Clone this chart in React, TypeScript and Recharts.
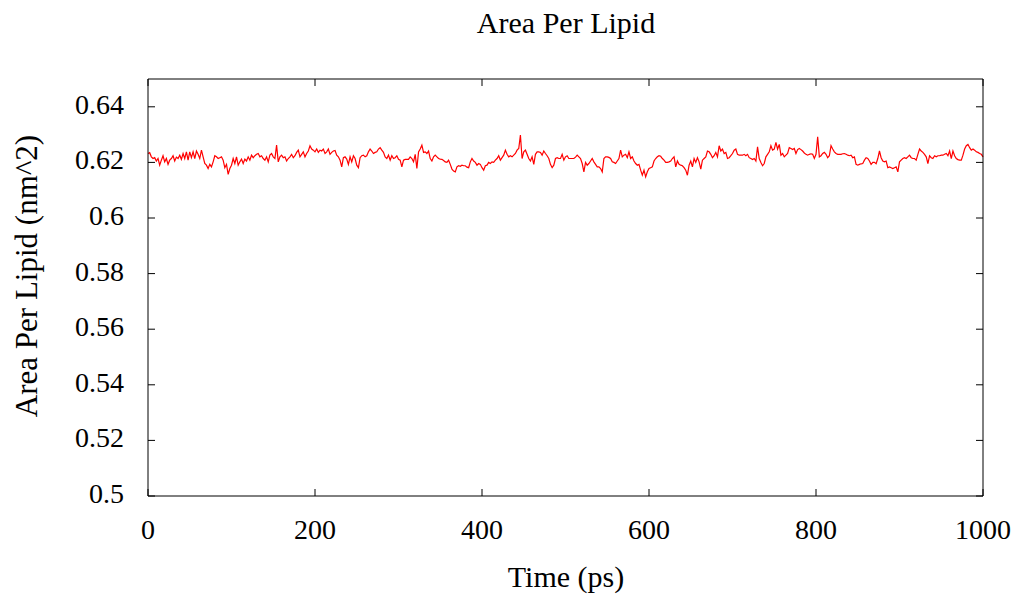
import { LineChart, Line, XAxis, YAxis } from "recharts";

// area per lipid (nm^2), one sample every 2 ps in six stretches
const sampleStepPs = 2;

const apl000 = [
  0.6232, 0.6235, 0.622, 0.6214, 0.6217, 0.6205, 0.6214, 0.619, 0.6208, 0.6224,
  0.6202, 0.6214, 0.6193, 0.6208, 0.6214, 0.6224, 0.6205, 0.6219, 0.6214, 0.6226,
  0.6211, 0.6232, 0.6214, 0.6238, 0.6208, 0.6238, 0.6217, 0.6238, 0.6214, 0.6241,
  0.6229, 0.6214, 0.6244, 0.622, 0.6196, 0.619, 0.6178, 0.6193, 0.6184, 0.6202,
  0.6224, 0.622, 0.6214, 0.6217, 0.622, 0.6208, 0.6181, 0.6193, 0.6157, 0.6178,
  0.619, 0.6214, 0.6196, 0.622, 0.619, 0.6202, 0.6212, 0.6196, 0.6212, 0.6205,
  0.622, 0.6208, 0.6226, 0.6217, 0.6224, 0.6229, 0.6232, 0.622, 0.6224, 0.6214,
  0.6208, 0.622, 0.6202, 0.6226, 0.6232, 0.622, 0.6214, 0.6262, 0.6202, 0.622,
  0.6226, 0.6217, 0.622,
];

const apl166 = [
  0.6205, 0.6214, 0.622, 0.6229, 0.6217, 0.6224, 0.6236, 0.6244, 0.622, 0.6229,
  0.6238, 0.622, 0.6232, 0.6241, 0.626, 0.6248, 0.6244, 0.6238, 0.6248, 0.6236,
  0.6244, 0.6241, 0.6248, 0.6232, 0.6238, 0.6248, 0.6229, 0.6236, 0.6241, 0.6243,
  0.6226, 0.622, 0.6208, 0.6184, 0.6217, 0.622, 0.6212, 0.6193, 0.622, 0.6202,
  0.6224, 0.6214, 0.619, 0.6181, 0.6217, 0.6224, 0.6226, 0.622, 0.6224, 0.6238,
  0.6248, 0.6241, 0.6232, 0.6236, 0.6238, 0.6248, 0.6253, 0.6244, 0.6236, 0.622,
  0.6214, 0.6226, 0.6208, 0.6224, 0.6214, 0.6217, 0.6224, 0.6211, 0.6208, 0.6184,
  0.6208, 0.6211, 0.6211, 0.6211, 0.622, 0.6214, 0.6202, 0.6229, 0.6178, 0.6238,
  0.6248, 0.6262, 0.6236,
];

const apl332 = [
  0.6238, 0.6232, 0.6241, 0.6214, 0.6205, 0.622, 0.6226, 0.622, 0.6214, 0.6212,
  0.6211, 0.6207, 0.6202, 0.62, 0.6208, 0.6193, 0.6176, 0.6169, 0.6166, 0.6184,
  0.6188, 0.6186, 0.619, 0.6188, 0.6188, 0.6183, 0.6181, 0.6202, 0.6214, 0.6205,
  0.62, 0.619, 0.6196, 0.6193, 0.6181, 0.6172, 0.6188, 0.619, 0.62, 0.6196,
  0.6202, 0.62, 0.6208, 0.6214, 0.6224, 0.6208, 0.6217, 0.6226, 0.6244, 0.6229,
  0.622, 0.6224, 0.622, 0.6226, 0.6232, 0.6244, 0.625, 0.6298, 0.6214, 0.6238,
  0.6244, 0.6229, 0.6214, 0.6205, 0.622, 0.6193, 0.6229, 0.6238, 0.6238, 0.6236,
  0.6226, 0.6241, 0.6232, 0.6224, 0.6214, 0.6193, 0.6181, 0.619, 0.6214, 0.6217,
  0.6214, 0.6214, 0.6229, 0.6208,
];

const apl500 = [
  0.622, 0.6224, 0.6214, 0.6214, 0.6214, 0.6214, 0.6219, 0.6226, 0.622, 0.6214,
  0.6196, 0.6166, 0.62, 0.619, 0.6196, 0.6205, 0.6214, 0.6202, 0.6193, 0.6184,
  0.6184, 0.6178, 0.6166, 0.6214, 0.622, 0.622, 0.6218, 0.6214, 0.6202, 0.62,
  0.6196, 0.6205, 0.6214, 0.6244, 0.622, 0.6226, 0.6229, 0.6217, 0.6238, 0.6214,
  0.622, 0.6205, 0.6196, 0.619, 0.6193, 0.6172, 0.6154, 0.6172, 0.6148, 0.6166,
  0.6178, 0.6181, 0.6184, 0.6205, 0.6214, 0.622, 0.6224, 0.6222, 0.6214, 0.6208,
  0.62, 0.62, 0.6202, 0.6205, 0.6214, 0.622, 0.6184, 0.6205, 0.6193, 0.619,
  0.6188, 0.6181, 0.6172, 0.6154, 0.619, 0.6205, 0.6184, 0.6214, 0.62, 0.6217,
  0.6202, 0.6176, 0.6208, 0.6214,
];

const apl668 = [
  0.622, 0.6241, 0.6238, 0.6229, 0.6217, 0.6224, 0.6236, 0.622, 0.626, 0.6241,
  0.6248, 0.6232, 0.6236, 0.6214, 0.6217, 0.6224, 0.6232, 0.6244, 0.6248, 0.6229,
  0.6226, 0.6226, 0.6226, 0.6229, 0.6224, 0.6229, 0.6217, 0.6214, 0.621, 0.6214,
  0.6205, 0.6256, 0.6214, 0.62, 0.6188, 0.6196, 0.622, 0.6229, 0.6238, 0.626,
  0.6244, 0.6248, 0.6272, 0.6248, 0.6265, 0.6226, 0.6232, 0.622, 0.6226, 0.6232,
  0.6253, 0.625, 0.6246, 0.625, 0.6232, 0.6246, 0.625, 0.6246, 0.6241, 0.6234,
  0.6229, 0.6226, 0.6229, 0.6231, 0.6229, 0.6214, 0.6229, 0.6292, 0.622, 0.6224,
  0.6232, 0.6236, 0.6229, 0.6217, 0.6224, 0.626, 0.6248, 0.6238, 0.6232, 0.6229,
  0.6229, 0.6229, 0.6231, 0.6232,
];

const apl836 = [
  0.6229, 0.6226, 0.6224, 0.6226, 0.6217, 0.622, 0.6193, 0.619, 0.6193, 0.6195,
  0.6196, 0.6208, 0.6217, 0.6214, 0.6205, 0.6193, 0.62, 0.62, 0.6195, 0.6214,
  0.6241, 0.6217, 0.6205, 0.6202, 0.6205, 0.6181, 0.6184, 0.6181, 0.6178, 0.6181,
  0.6184, 0.6166, 0.6202, 0.6208, 0.6214, 0.6217, 0.6214, 0.622, 0.6226, 0.6217,
  0.6214, 0.6214, 0.6208, 0.6229, 0.6248, 0.6241, 0.6236, 0.6229, 0.622, 0.6196,
  0.6224, 0.6217, 0.6214, 0.6224, 0.622, 0.6224, 0.6224, 0.6226, 0.6226, 0.6229,
  0.6232, 0.6224, 0.6241, 0.6214, 0.6241, 0.6224, 0.6214, 0.621, 0.6208, 0.6208,
  0.6226, 0.6248, 0.626, 0.6265, 0.6253, 0.6244, 0.6248, 0.6244, 0.6238, 0.6236,
  0.6232, 0.6229, 0.622,
];

const xTicks = [0, 200, 400, 600, 800, 1000];
const yTicks = [0.5, 0.52, 0.54, 0.56, 0.58, 0.6, 0.62, 0.64];

const data = [...apl000, ...apl166, ...apl332, ...apl500, ...apl668, ...apl836].map((v, i) => ({
  t: i * sampleStepPs,
  apl: v,
}));

const FONT = "'Liberation Serif', 'Times New Roman', serif";
const TICK = 7;

const BottomTick = (props: any) => {
  const { x, y, payload } = props;
  return (
    <g>
      <line x1={x} y1={y} x2={x} y2={y - TICK} stroke="#000" />
      <text x={x} y={y + 43} textAnchor="middle" fontSize={28} fontFamily={FONT} fill="#000">
        {payload.value}
      </text>
    </g>
  );
};

const TopTick = (props: any) => {
  const { x, y } = props;
  return <line x1={x} y1={y} x2={x} y2={y + TICK} stroke="#000" />;
};

const LeftTick = (props: any) => {
  const { x, y, payload } = props;
  return (
    <g>
      <line x1={x} y1={y} x2={x + TICK} y2={y} stroke="#000" />
      <text x={x - 24} y={y + 7} textAnchor="end" fontSize={28} fontFamily={FONT} fill="#000">
        {String(Number(payload.value.toFixed(2)))}
      </text>
    </g>
  );
};

const RightTick = (props: any) => {
  const { x, y } = props;
  return <line x1={x} y1={y} x2={x - TICK} y2={y} stroke="#000" />;
};

export default function App() {
  return (
    <div style={{ position: "absolute", left: 0, top: 0, background: "#fff" }}>
      <LineChart width={1011} height={596} data={data} margin={{ top: 39, right: 0, bottom: 70, left: 0 }}>
        <XAxis
          xAxisId="bottom"
          type="number"
          dataKey="t"
          domain={[0, 1000]}
          ticks={xTicks}
          height={30}
          tickSize={0}
          tickMargin={0}
          tickLine={false}
          axisLine={{ stroke: "#000" }}
          tick={<BottomTick />}
        />
        <XAxis
          xAxisId="top"
          orientation="top"
          type="number"
          dataKey="t"
          domain={[0, 1000]}
          ticks={xTicks}
          height={40}
          tickSize={0}
          tickMargin={0}
          tickLine={false}
          axisLine={{ stroke: "#000" }}
          tick={<TopTick />}
        />
        <YAxis
          yAxisId="left"
          type="number"
          domain={[0.5, 0.65]}
          ticks={yTicks}
          width={148}
          tickSize={0}
          tickMargin={0}
          tickLine={false}
          allowDataOverflow
          axisLine={{ stroke: "#000" }}
          tick={<LeftTick />}
        />
        <YAxis
          yAxisId="right"
          orientation="right"
          type="number"
          domain={[0.5, 0.65]}
          ticks={yTicks}
          width={28}
          tickSize={0}
          tickMargin={0}
          tickLine={false}
          allowDataOverflow
          axisLine={{ stroke: "#000" }}
          tick={<RightTick />}
        />
        <Line
          xAxisId="bottom"
          yAxisId="left"
          type="linear"
          dataKey="apl"
          stroke="#ff0000"
          strokeWidth={1.2}
          dot={false}
          isAnimationActive={false}
        />
        <text x={566} y={33} textAnchor="middle" fontSize={30} fontFamily={FONT} fill="#000">
          Area Per Lipid
        </text>
        <text x={566} y={587} textAnchor="middle" fontSize={30} fontFamily={FONT} fill="#000">
          Time (ps)
        </text>
        <text
          x={0}
          y={0}
          transform="translate(37 276) rotate(-90)"
          textAnchor="middle"
          fontSize={31}
          fontFamily={FONT}
          fill="#000"
        >
          Area Per Lipid (nm^2)
        </text>
      </LineChart>
    </div>
  );
}
